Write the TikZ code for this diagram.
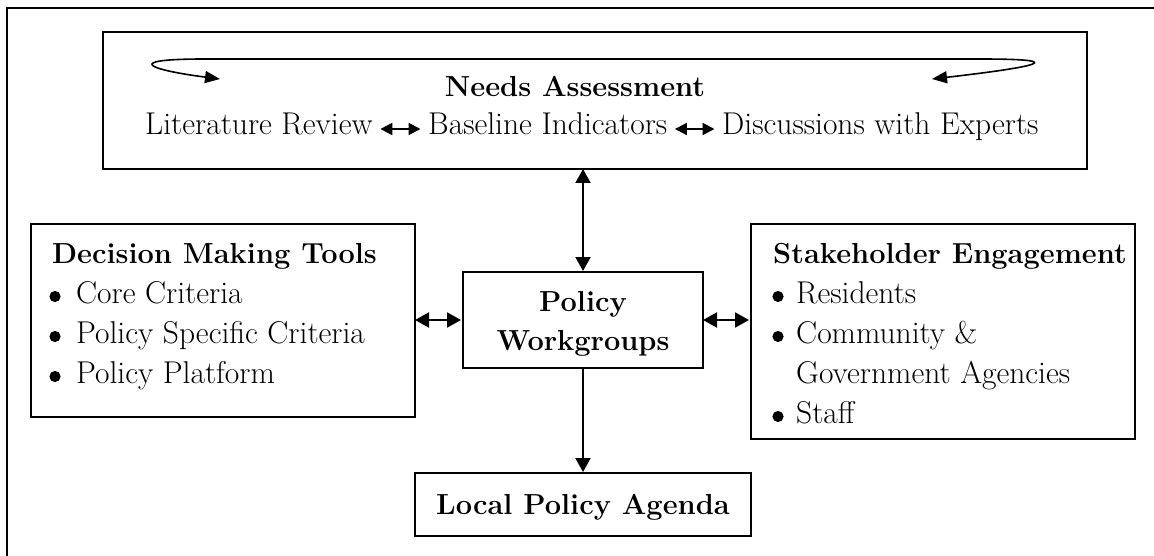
\documentclass[tikz,border=0pt]{standalone}
\usepackage{fontspec}
\usetikzlibrary{arrows.meta}
\begin{document}
\begin{tikzpicture}[x=1pt,y=-1pt,
  box/.style={draw, line width=2pt, inner sep=0pt, outer sep=0pt},
  txt/.style={inner sep=0pt, font=\fontsize{31.5}{40}\selectfont},
  ttl/.style={inner sep=0pt, font=\fontsize{29}{40}\selectfont\bfseries},
  link/.style={line width=2pt,
    {Triangle[length=14pt,width=15pt]}-{Triangle[length=14pt,width=15pt]}},
  flow/.style={line width=2pt, -{Triangle[length=14pt,width=15pt]}},
  inline/.style={line width=2pt,
    {Triangle[length=12pt,width=12pt]}-{Triangle[length=12pt,width=12pt]}},
  loop/.style={line width=1.6pt,
    {Triangle[length=15pt,width=12pt]}-{Triangle[length=15pt,width=12pt]}},
  dot/.style={radius=5.6pt}]
\useasboundingbox (0,0) rectangle (1154,556);

% open outer frame
\draw[line width=2.2pt] (7,556) -- (7,8) -- (1154,8);

% boxes
\node[box, minimum width=984pt, minimum height=137pt] (needs) at (595,100.5) {};
\node[box, minimum width=384pt, minimum height=193pt] (tools) at (223,320.5) {};
\node[box, minimum width=384pt, minimum height=215pt] (stake) at (943,331.5) {};
\node[box, minimum width=240pt, minimum height=96pt] (work) at (583,320) {};
\node[box, minimum width=336pt, minimum height=63pt] (agenda) at (583,504.5) {};

% needs assessment content
\coordinate (loopL) at (220,79);
\coordinate (loopR) at (932,79);
\draw[loop] (loopL) .. controls (150,70) and (120,59) .. (205,59)
  -- (980,59) .. controls (1090,59) and (1010,70) .. (loopR);
\node[ttl, anchor=base] (needsT) at (575,97) {Needs Assessment};
\node[txt, anchor=base west] (lit) at (145,135) {Literature Review};
\node[txt, anchor=base west] (base) at (428,135) {Baseline Indicators};
\node[txt, anchor=base west] (disc) at (722,135) {Discussions with Experts};
\draw[inline, shorten <=7.5pt, shorten >=7.5pt]
  ([yshift=6pt]lit.base east) -- ([yshift=6pt]base.base west);
\draw[inline, shorten <=7.5pt, shorten >=7.5pt]
  ([yshift=6pt]base.base east) -- ([yshift=6pt]disc.base west);

% decision making tools
\node[ttl, anchor=base west] (toolsT) at (52,263) {Decision Making Tools};
\node[txt, anchor=base west] (tools1) at (76,303) {Core Criteria};
\node[txt, anchor=base west] (tools2) at (76,343) {Policy Specific Criteria};
\node[txt, anchor=base west] (tools3) at (76,383) {Policy Platform};
\foreach \n in {tools1,tools2,tools3}
  \fill[dot] ([xshift=-21pt,yshift=6.5pt]\n.base west) circle;

% stakeholder engagement
\node[ttl, anchor=base west] (stakeT) at (773,263) {Stakeholder Engagement};
\node[txt, anchor=base west] (stake1) at (796,303) {Residents};
\node[txt, anchor=base west] (stake2) at (796,343) {Community \&};
\node[txt, anchor=base west] (stake2b) at (796,383) {Government Agencies};
\node[txt, anchor=base west] (stake3) at (796,423) {Staff};
\foreach \n in {stake1,stake2,stake3}
  \fill[dot] ([xshift=-18pt,yshift=6.5pt]\n.base west) circle;

% policy workgroups and agenda
\node[ttl, anchor=base] (workT1) at (583,311) {Policy};
\node[ttl, anchor=base] (workT2) at (583,350) {Workgroups};
\node[ttl, anchor=base] (agendaT) at (583,514) {Local Policy Agenda};

% connectors
\draw[link, shorten >=1pt] (needs.south -| work.north) -- (work.north);
\draw[link, shorten >=2pt] (tools.east |- work.west) -- (work.west);
\draw[link, shorten >=2pt] (work.east) -- (stake.west |- work.east);
\draw[flow, shorten >=1pt] (work.south) -- (agenda.north);
\end{tikzpicture}
\end{document}
